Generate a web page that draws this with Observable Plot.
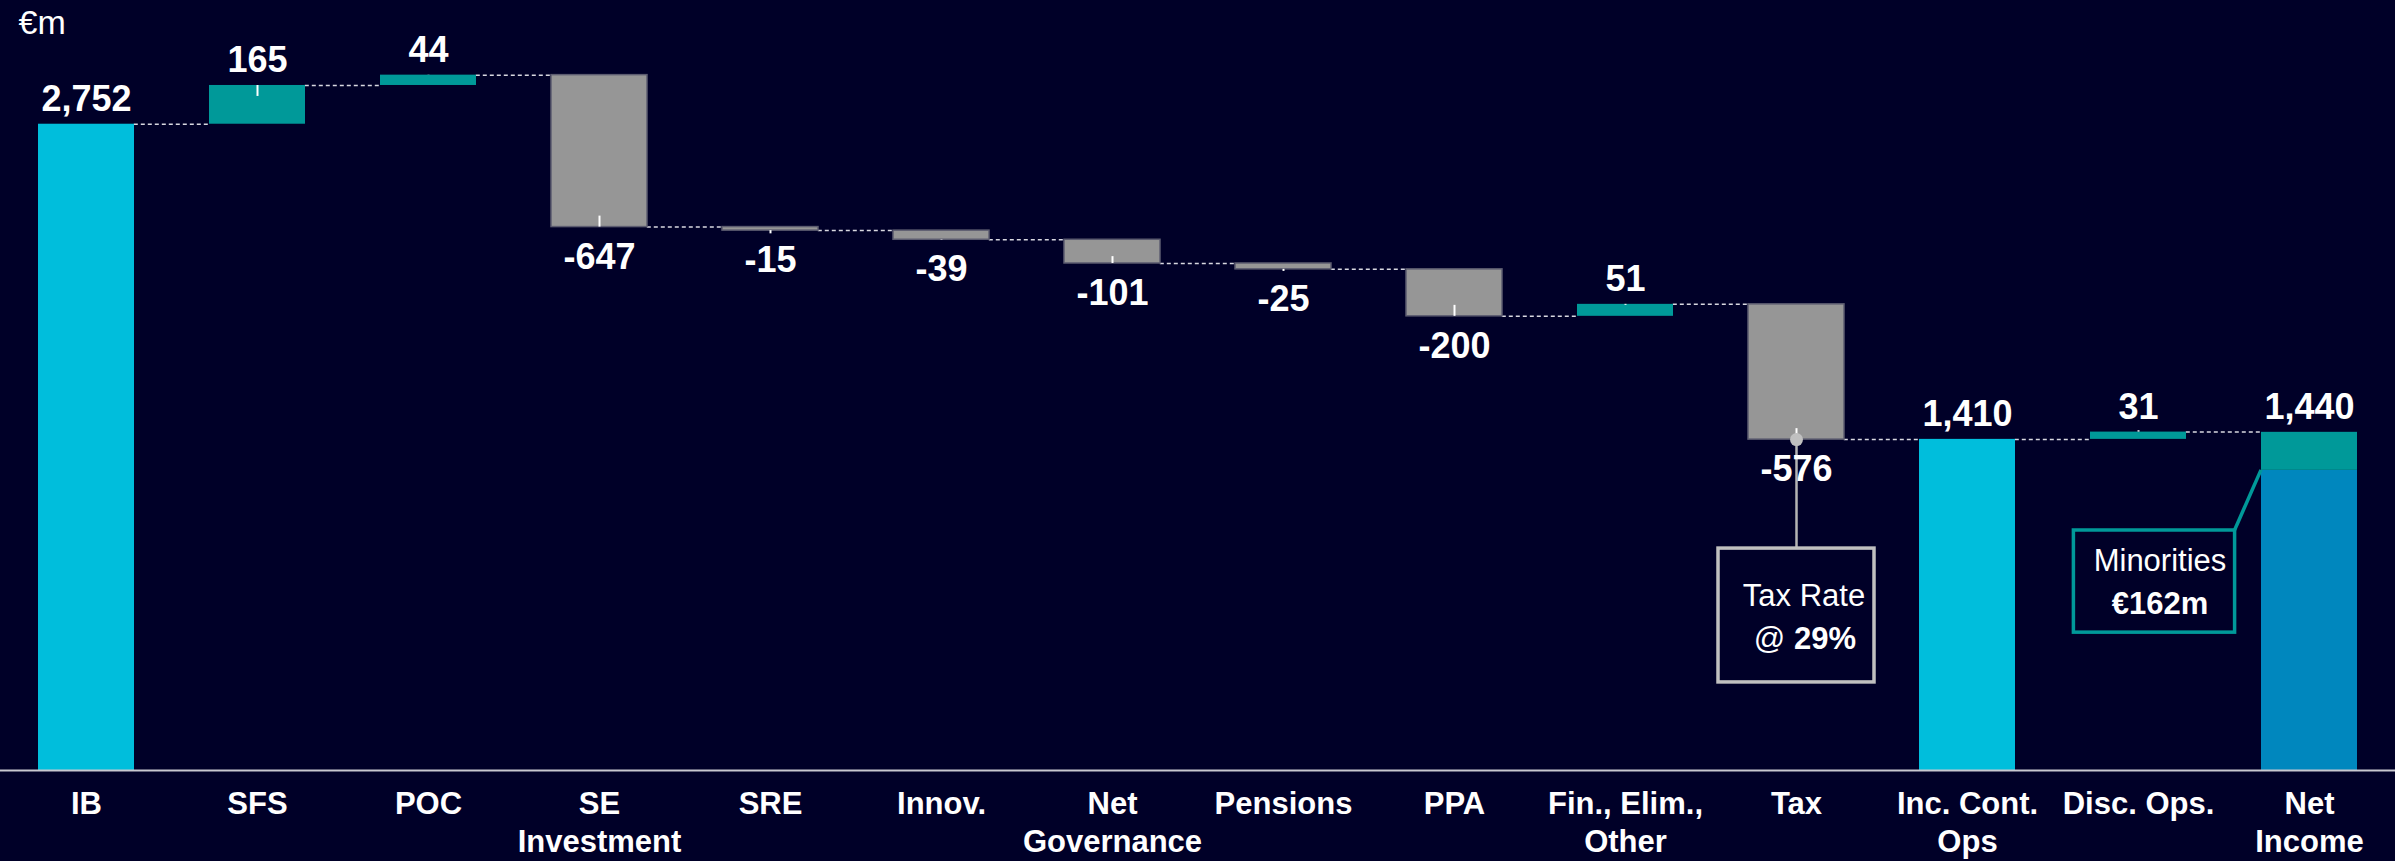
<!DOCTYPE html>
<html>
<head>
<meta charset="utf-8">
<script src="https://cdn.jsdelivr.net/npm/d3@7"></script>
<script src="https://cdn.jsdelivr.net/npm/@observablehq/plot@0.6"></script>
<style>
html, body { margin: 0; padding: 0; background: #000028; }
#chart svg { display: block; }
</style>
</head>
<body>
<div id="chart"></div>
<script>
// ---------- data ----------
const unitLabel = "€m";
const categories = ["IB", "SFS", "POC", "SE Investment", "SRE", "Innov.", "Net Governance", "Pensions", "PPA", "Fin., Elim., Other", "Tax", "Inc. Cont. Ops", "Disc. Ops.", "Net Income"];
const tickLabels = ["IB", "SFS", "POC", "SE\nInvestment", "SRE", "Innov.", "Net\nGovernance", "Pensions", "PPA", "Fin., Elim.,\nOther", "Tax", "Inc. Cont.\nOps", "Disc. Ops.", "Net\nIncome"];
const values = [2752, 165, 44, -647, -15, -39, -101, -25, -200, 51, -576, 1410, 31, 1440];
const isTotal = [true, false, false, false, false, false, false, false, false, false, false, true, false, true];
const minorities = 162;
const taxNoteLines = ["Tax Rate", "@", "29%"];
const minoritiesNoteLines = ["Minorities", "€162m"];

// ---------- styling ----------
const BG = "#000028";
const CYAN = "#00BEDC";
const TEAL = "#009999";
const GRAY = "#969696";
const BLUE = "#0087BE";
const FONT = "'Liberation Sans', Arial, Helvetica, sans-serif";
const W = 2395, H = 861;
const step = W / categories.length;
const bw = step * 0.56;

// annotation anchors (data units on y)
const taxBox = {cat: "Tax", top: 945, bottom: 375, line1: 702, line2: 519};
const minBox = {cat: "Disc. Ops.", top: 1022, bottom: 587, line1: 851, line2: 668, insetLeft: -16.6, insetRight: -48.6};

// ---------- derived ----------
let run = 0;
const steps = categories.map((cat, i) => {
  const v = values[i];
  let y1, y2;
  if (isTotal[i]) { y1 = 0; y2 = v; run = v; }
  else { y1 = run; y2 = run + v; run = y2; }
  return {cat, value: v, total: isTotal[i], y1, y2, end: y2, label: tickLabels[i]};
});

const bars = [];
steps.forEach(s => {
  if (s.cat === "Net Income") {
    bars.push({cat: s.cat, y1: 0, y2: s.value - minorities, fill: BLUE});
    bars.push({cat: s.cat, y1: s.value - minorities, y2: s.value, fill: TEAL});
  } else if (s.total) {
    bars.push({cat: s.cat, y1: s.y1, y2: s.y2, fill: CYAN});
  } else {
    bars.push({cat: s.cat, y1: s.y1, y2: s.y2, fill: s.value >= 0 ? TEAL : GRAY});
  }
});

const connectors = steps.slice(0, -1).map((s, i) => ({x1: s.cat, x2: steps[i + 1].cat, y: s.end}));
const up = steps.filter(s => s.total || s.value >= 0);
const down = steps.filter(s => !s.total && s.value < 0);
const upDeltas = steps.filter(s => !s.total && s.value >= 0);
const fmt = v => v.toLocaleString("en-US");

const minoritiesLeader = (index, scales) => {
  const x = scales.x, y = scales.y;
  const bwid = x.bandwidth();
  const x1 = x(minBox.cat) + bwid - minBox.insetRight;
  const y1 = y(minBox.top);
  const x2 = x("Net Income");
  const y2 = y(values[values.length - 1] - minorities);
  const line = document.createElementNS("http://www.w3.org/2000/svg", "line");
  line.setAttribute("x1", x1); line.setAttribute("y1", y1);
  line.setAttribute("x2", x2); line.setAttribute("y2", y2);
  line.setAttribute("stroke", TEAL);
  line.setAttribute("stroke-width", 3.5);
  return line;
};

const chart = Plot.plot({
  width: W,
  height: H,
  marginTop: 42,
  marginBottom: 91,
  marginLeft: 0,
  marginRight: 0,
  style: {background: BG, color: "#ffffff", fontFamily: FONT, overflow: "visible"},
  x: {domain: categories, paddingInner: 0.44, paddingOuter: 0.22, axis: null},
  y: {domain: [0, 3100], axis: null},
  color: {type: "identity"},
  marks: [
    // connectors (right edge of one bar to left edge of the next)
    Plot.ruleY(connectors, {x1: "x1", x2: "x2", y: "y", insetLeft: bw, insetRight: bw, stroke: "#d8d8e0", strokeWidth: 1.5, strokeDasharray: "4,3"}),
    // bars
    Plot.barY(bars.filter(b => b.fill !== GRAY), {x: "cat", y1: "y1", y2: "y2", fill: "fill"}),
    Plot.barY(bars.filter(b => b.fill === GRAY), {x: "cat", y1: "y1", y2: "y2", fill: "fill", stroke: "#5c5c70", strokeWidth: 1.5}),
    // baseline
    Plot.ruleY([0], {stroke: "#c8c8d0", strokeWidth: 2}),
    // tax leader
    Plot.ruleX([taxBox], {x: "cat", y1: () => steps[10].end, y2: "top", stroke: "#b4b4b4", strokeWidth: 2.5}),
    // value ticks
    Plot.ruleX(upDeltas, {x: "cat", y1: d => d.end - Math.min(68, Math.abs(d.value) / 2), y2: "end", insetTop: -5, stroke: "#ffffff", strokeWidth: 2}),
    Plot.ruleX(down, {x: "cat", y1: "end", y2: d => d.end + Math.min(68, Math.abs(d.value) / 2), insetBottom: -5, stroke: "#ffffff", strokeWidth: 2}),
    Plot.dot([taxBox], {x: "cat", y: () => steps[10].end, r: 6.5, fill: "#c0c0c0"}),
    // value labels
    Plot.text(up, {x: "cat", y: "end", text: d => fmt(d.value), lineAnchor: "bottom", dy: -13, fontSize: 36, fontWeight: "bold", fill: "#ffffff"}),
    Plot.text(down, {x: "cat", y: "end", text: d => fmt(d.value), lineAnchor: "top", dy: 16, fontSize: 36, fontWeight: "bold", fill: "#ffffff"}),
    // category labels
    Plot.text(steps, {x: "cat", frameAnchor: "bottom", text: "label", lineAnchor: "top", dy: 17, fontSize: 31, fontWeight: "bold", lineHeight: 1.22, fill: "#ffffff"}),
    // unit label
    Plot.text([unitLabel], {frameAnchor: "top-left", text: d => d, textAnchor: "start", lineAnchor: "bottom", dx: 18, dy: -9, fontSize: 34, fill: "#ffffff"}),
    // tax note box
    Plot.rect([taxBox], {x: "cat", y1: "bottom", y2: "top", insetLeft: -30, insetRight: -30, fill: BG, stroke: "#c0c0c0", strokeWidth: 3.5}),
    Plot.text([taxBox], {x: "cat", y: "line1", text: () => taxNoteLines[0], lineAnchor: "bottom", dx: 7.5, fontSize: 31, fill: "#ffffff"}),
    Plot.text([taxBox], {x: "cat", y: "line2", text: () => taxNoteLines[1], lineAnchor: "bottom", dx: -27, fontSize: 31, fill: "#ffffff"}),
    Plot.text([taxBox], {x: "cat", y: "line2", text: () => taxNoteLines[2], lineAnchor: "bottom", dx: 28.5, fontSize: 31, fontWeight: "bold", fill: "#ffffff"}),
    // minorities note box
    minoritiesLeader,
    Plot.rect([minBox], {x: "cat", y1: "bottom", y2: "top", insetLeft: minBox.insetLeft, insetRight: minBox.insetRight, fill: BG, stroke: TEAL, strokeWidth: 3.5}),
    Plot.text([minBox], {x: "cat", y: "line1", text: () => minoritiesNoteLines[0], lineAnchor: "bottom", dx: 21.5, fontSize: 31, fill: "#ffffff"}),
    Plot.text([minBox], {x: "cat", y: "line2", text: () => minoritiesNoteLines[1], lineAnchor: "bottom", dx: 21.5, fontSize: 31, fontWeight: "bold", fill: "#ffffff"})
  ]
});
document.getElementById("chart").appendChild(chart);
</script>
</body>
</html>
